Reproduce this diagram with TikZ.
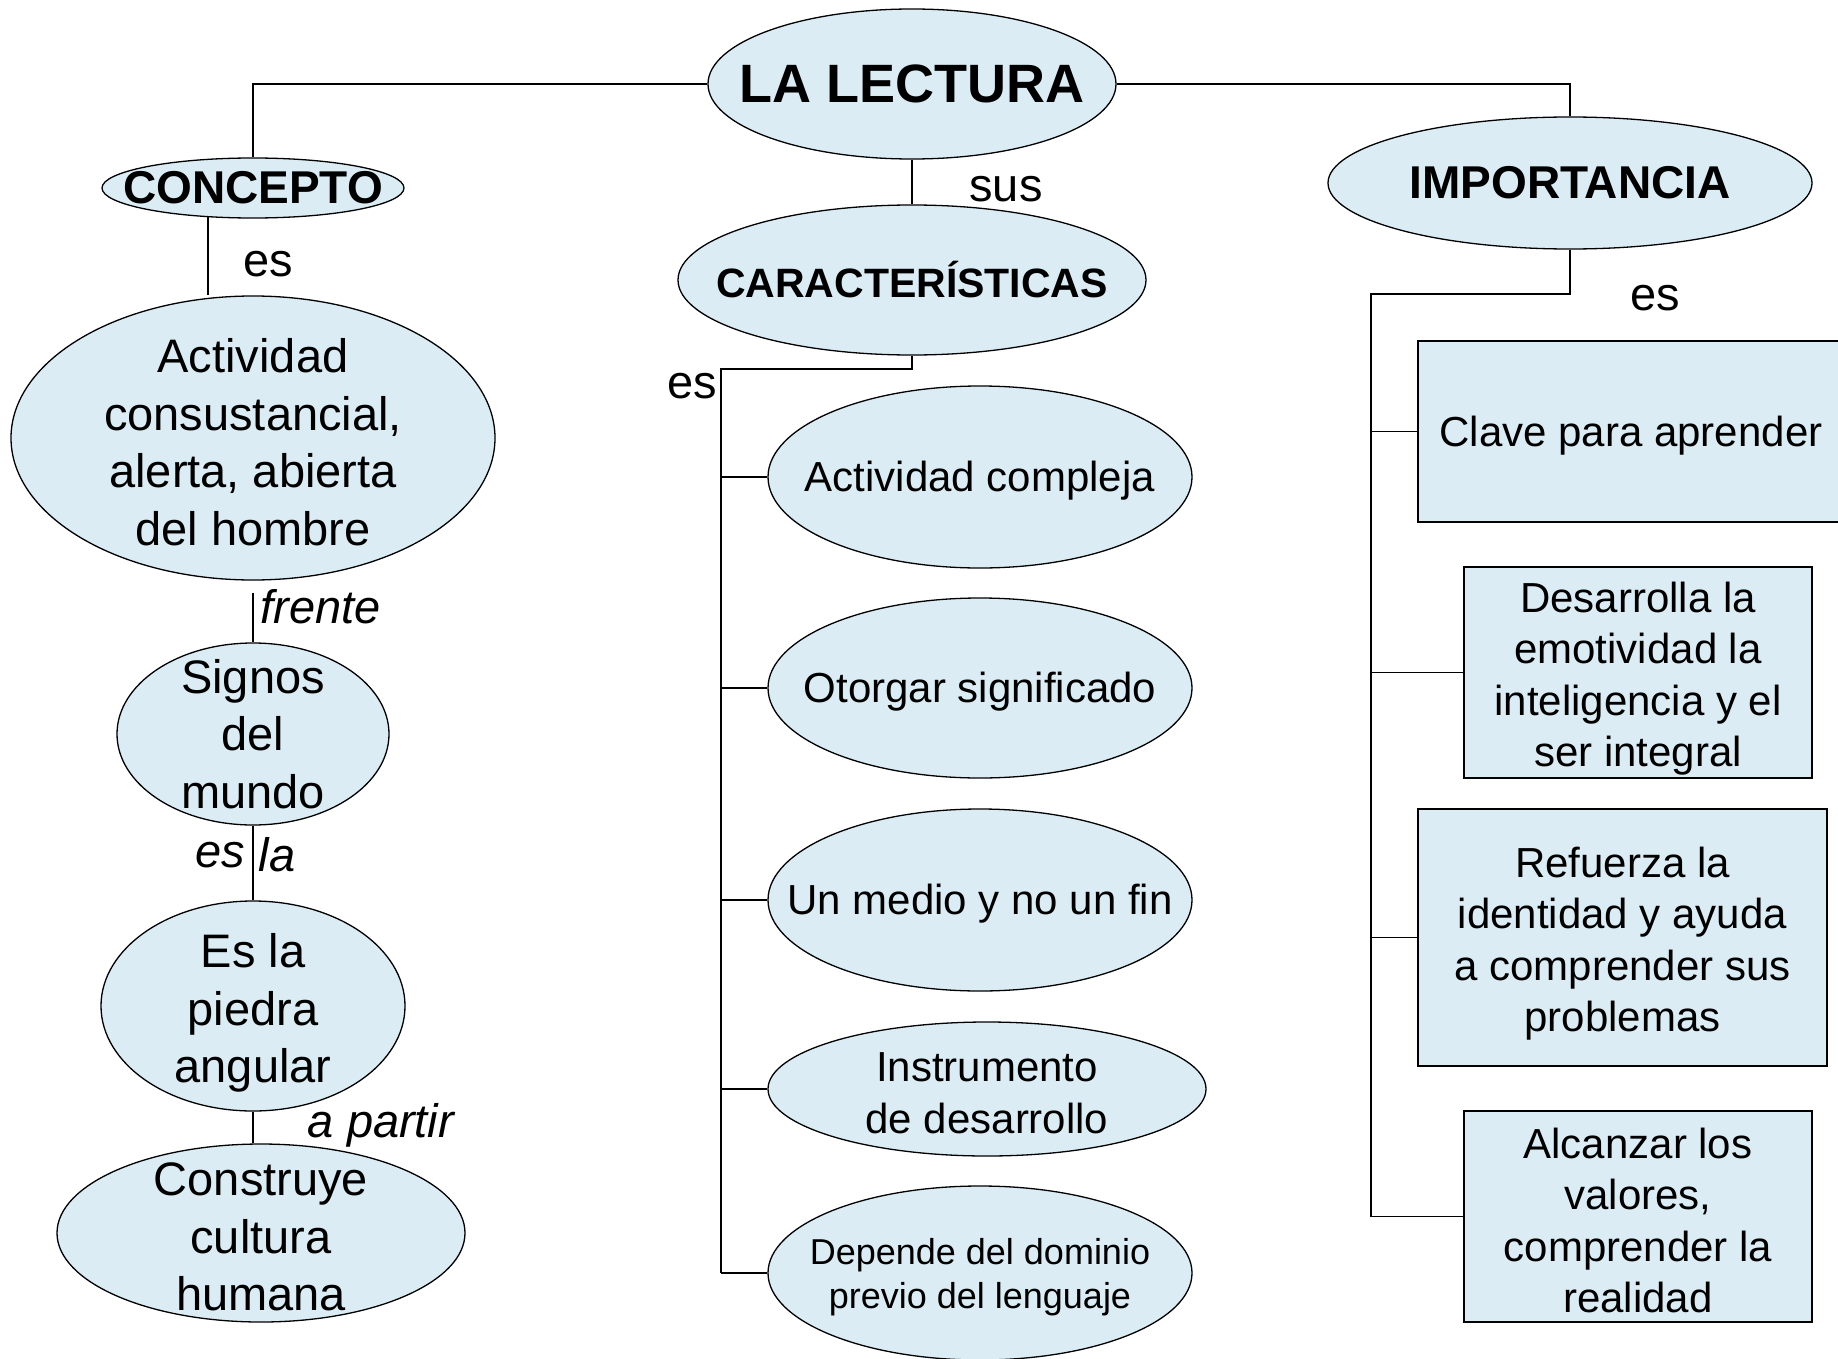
\documentclass[tikz,border=0pt]{standalone}
\usepackage{fontspec}
\setmainfont{Liberation Sans}
\usetikzlibrary{shapes.geometric}
\definecolor{celeste}{RGB}{219,236,244}
\tikzstyle{elipse} = [ellipse, draw=black, line width=1.3pt, fill=celeste, inner sep=0pt]
\tikzstyle{caja} = [rectangle, draw=black, line width=1.5pt, fill=celeste, inner sep=0pt]
\tikzstyle{texto} = [inner sep=0pt, align=center, yshift=-4pt, font=\fontsize{47}{57.5}\selectfont]
\tikzstyle{textorasgo} = [texto, font=\fontsize{42}{51.5}\selectfont]
\tikzstyle{enlace} = [line width=1.3pt]
\tikzstyle{etiqueta} = [inner sep=0pt, font=\fontsize{47}{50}\selectfont]
\tikzstyle{cursiva} = [etiqueta, font=\fontsize{47}{50}\selectfont\itshape]
\tikzset{rotulo/.style={label={[texto]center:#1}},
	rotulorasgo/.style={label={[textorasgo]center:#1}},
	titulo/.style 2 args={label={[inner sep=0pt, font=\fontsize{#1}{#1}\selectfont\bfseries]center:#2}}}

\begin{document}
\begin{tikzpicture}[x=1pt, y=-1pt]
	\useasboundingbox (0,0) rectangle (1838,1359);
	% titulos
	\node(lectura) [elipse, minimum width=408pt, minimum height=150pt, titulo={54}{LA LECTURA}] at (912,84) {};
	\node(concepto) [elipse, minimum width=302pt, minimum height=60pt, titulo={46}{CONCEPTO}] at (253,188) {};
	\node(caract) [elipse, minimum width=468pt, minimum height=150pt, titulo={41}{CARACTERÍSTICAS}] at (912,280) {};
	\node(importancia) [elipse, minimum width=484pt, minimum height=132pt, titulo={46}{IMPORTANCIA}] at (1570,183) {};
	% columna izquierda
	\node(actividad) [elipse, minimum width=484pt, minimum height=284pt, rotulo={Actividad\\consustancial,\\alerta, abierta\\del hombre}] at (253,438) {};
	\node(signos) [elipse, minimum width=272pt, minimum height=182pt, label={[texto, yshift=4pt]center:Signos\\del\\mundo}] at (253,734) {};
	\node(piedra) [elipse, minimum width=304pt, minimum height=210pt, label={[texto, yshift=-3pt]center:Es la\\piedra\\angular}] at (253,1006) {};
	\node(construye) [elipse, minimum width=408pt, minimum height=178pt, rotulo={Construye\\cultura\\humana}] at (261,1233) {};
	% columna central
	\node(compleja) [elipse, minimum width=424pt, minimum height=182pt, rotulorasgo={Actividad compleja}] at (980,477) {};
	\node(otorgar) [elipse, minimum width=424pt, minimum height=180pt, rotulorasgo={Otorgar significado}] at (980,688) {};
	\node(medio) [elipse, minimum width=424pt, minimum height=182pt, rotulorasgo={Un medio y no un fin}] at (980,900) {};
	\node(instrumento) [elipse, minimum width=438pt, minimum height=134pt, rotulorasgo={Instrumento\\de desarrollo}] at (987,1089) {};
	\node(depende) [elipse, minimum width=424pt, minimum height=174pt, label={[texto, font=\fontsize{36}{44.5}\selectfont]center:Depende del dominio\\previo del lenguaje}] at (980,1273) {};
	% columna derecha
	\node(clave) [caja, minimum width=426pt, minimum height=181pt, rotulorasgo={Clave para aprender}] at (1631,431.5) {};
	\node(desarrolla) [caja, minimum width=348pt, minimum height=211pt, label={[textorasgo, yshift=-2pt]center:Desarrolla la\\emotividad la\\inteligencia y el\\ser integral}] at (1638,672.5) {};
	\node(refuerza) [caja, minimum width=409pt, minimum height=257pt, label={[textorasgo, yshift=-2pt]center:Refuerza la\\identidad y ayuda\\a comprender sus\\problemas}] at (1622.5,937.5) {};
	\node(alcanzar) [caja, minimum width=348pt, minimum height=211pt, rotulorasgo={Alcanzar los\\valores,\\comprender la\\realidad}] at (1638,1216.5) {};
	% conectores
	\draw [enlace] (lectura.west) -| (concepto.north);
	\draw [enlace] (lectura.east) -| (importancia.north);
	\draw [enlace] (lectura.south) -- (caract.north);
	\draw [enlace] (concepto.213) -- (concepto.213 |- actividad.north);
	\draw [enlace, shorten <=12pt] (actividad.south) -- (signos.north);
	\draw [enlace] (signos.south) -- (piedra.north);
	\draw [enlace] (piedra.south) -- (construye.north -| piedra.south);
	\coordinate(ctronco) at (721,369);
	\draw [enlace] (caract.south) |- (ctronco) -- (ctronco |- depende.west);
	\foreach \n in {compleja, otorgar, medio, instrumento, depende}
		\draw [enlace] (ctronco |- \n.west) -- (\n.west);
	\coordinate(itronco) at (1371,294);
	\draw [enlace] (importancia.south) |- (itronco) -- (itronco |- alcanzar.west);
	\foreach \n in {clave, desarrolla, refuerza, alcanzar}
		\draw [enlace] (itronco |- \n.west) -- (\n.west);
	% etiquetas
	\node(sus) [etiqueta] at (1006,189) {sus};
	\node(es1) [etiqueta] at (268,264) {es};
	\node(frente) [cursiva] at (321,607) {frente};
	\node(es2) [cursiva] at (220,855) {es};
	\node(la) [cursiva] at (277,855) {la};
	\node(apartir) [cursiva] at (381,1125) {a partir};
	\node(es3) [etiqueta] at (692,386) {es};
	\node(es4) [etiqueta] at (1655,298) {es};
\end{tikzpicture}
\end{document}
